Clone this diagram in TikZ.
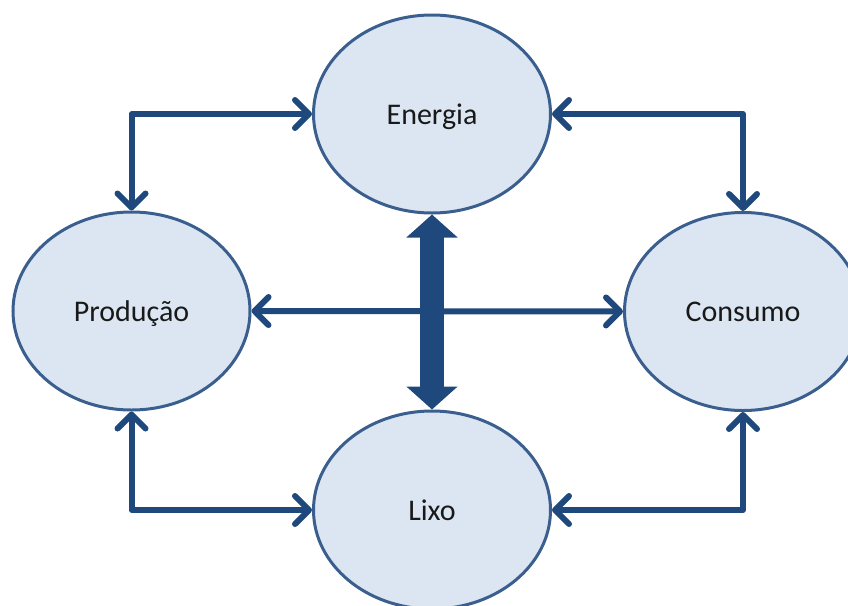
\documentclass[tikz,border=0pt]{standalone}
\usepackage{fontspec}
\setmainfont{Carlito}
\usetikzlibrary{shapes.geometric,arrows.meta}
\definecolor{ellfill}{HTML}{DCE6F2}
\definecolor{elldraw}{HTML}{3A5F8E}
\definecolor{arrowblue}{HTML}{1F497D}
\tikzset{
  bubble/.style={ellipse, draw=elldraw, line width=3pt, fill=ellfill,
    minimum width=237pt, minimum height=198pt, inner sep=0pt,
    text height=24pt, text depth=4pt,
    font=\fontsize{30}{36}\selectfont, text=black!90},
  link/.style={draw=arrowblue, line width=6pt, line cap=round, line join=round,
    {Straight Barb[length=14pt,width=28pt,line cap=round,line join=round]}-{Straight Barb[length=14pt,width=28pt,line cap=round,line join=round]}},
  biglink/.style={draw=arrowblue, line width=24pt,
    {Triangle[length=23pt,width=50pt]}-{Triangle[length=23pt,width=50pt]}}
}
\begin{document}
\begin{tikzpicture}[x=1pt,y=-1pt]
\useasboundingbox (0,0) rectangle (848,605);
\clip (0,0) rectangle (848,605);
\node[bubble] (E) at (432,114) {Energia};
\node[bubble] (P) at (131.5,311) {Produção};
\node[bubble] (C) at (743,311.5) {Consumo};
\node[bubble] (L) at (432,510) {Lixo};
\draw[link] (P.north) |- (E.west);
\draw[link] (E.east) -| (C.north);
\draw[link] (P.south) |- (L.west);
\draw[link] (L.east) -| (C.south);
\draw[link] (P.east) -- (C.west);
\draw[biglink] (E.south) -- (L.north);
\end{tikzpicture}
\end{document}
